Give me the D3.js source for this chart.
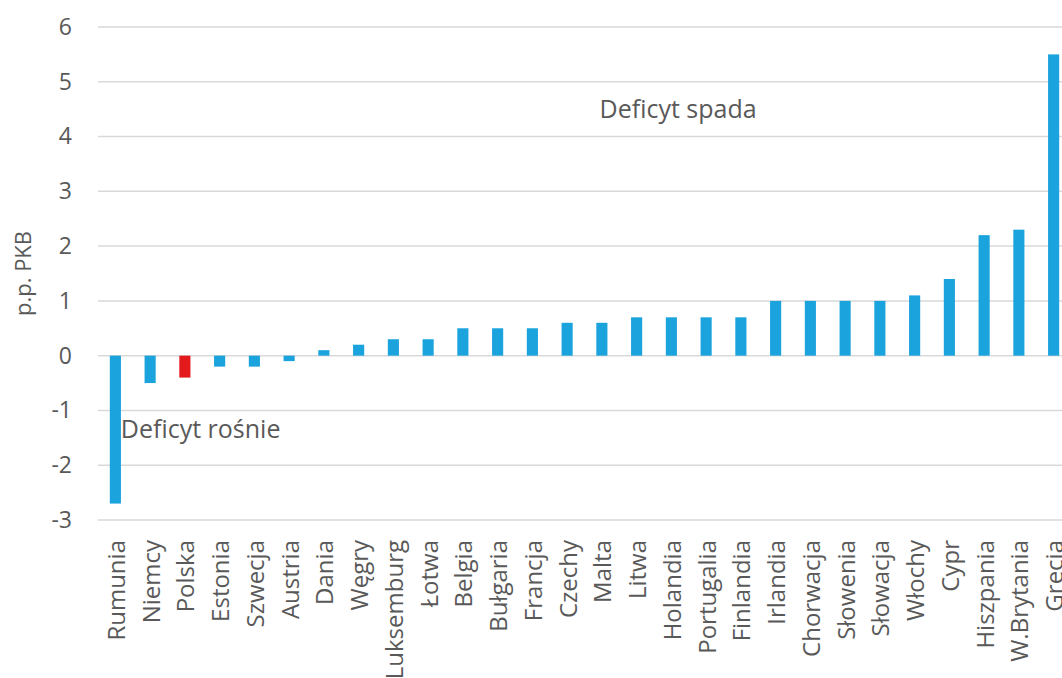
<!DOCTYPE html>
<html>
<head>
<meta charset="utf-8">
<script src="https://cdn.jsdelivr.net/npm/d3@7"></script>
<style>
  html, body { margin: 0; padding: 0; background: #fff; }
  svg { display: block; }
  text { font-family: "Open Sans", "Noto Sans", sans-serif; fill: #595959; }
</style>
</head>
<body>
<svg id="chart" width="1062" height="678"></svg>
<script>
// Change in general government balance, p.p. of GDP
const countries = ["Rumunia","Niemcy","Polska","Estonia","Szwecja","Austria","Dania","Węgry",
  "Luksemburg","Łotwa","Belgia","Bułgaria","Francja","Czechy","Malta","Litwa","Holandia",
  "Portugalia","Finlandia","Irlandia","Chorwacja","Słowenia","Słowacja","Włochy","Cypr",
  "Hiszpania","W.Brytania","Grecja"];
const values = [-2.7,-0.5,-0.4,-0.2,-0.2,-0.1,0.1,0.2,0.3,0.3,0.5,0.5,0.5,0.6,0.6,0.7,0.7,
  0.7,0.7,1.0,1.0,1.0,1.0,1.1,1.4,2.2,2.3,5.5];
const yTicks = [-3,-2,-1,0,1,2,3,4,5,6];
const highlight = "Polska";
const notes = [
  { text: "Deficyt spada", at: "Czechy", value: 4.5, shift: 38 },
  { text: "Deficyt rośnie", at: "Rumunia", value: -1.35, shift: 11 }
];

const svg = d3.select("#chart");
const plotLeft = 98, plotRight = 1071, plotTop = 27, plotBottom = 520;

const x = d3.scaleBand().domain(countries).range([plotLeft, plotRight]).paddingInner(0.68).paddingOuter(0.34);
const y = d3.scaleLinear().domain([-3, 6]).range([plotBottom, plotTop]);

// grid
svg.append("g").selectAll("line").data(yTicks).join("line")
  .attr("x1", plotLeft).attr("x2", 1062)
  .attr("y1", d => y(d)).attr("y2", d => y(d))
  .attr("stroke", "#d9d9d9").attr("stroke-width", 1.5);

// y axis labels (plain hyphen for negatives)
const yAxis = svg.append("g").attr("transform", `translate(${plotLeft - 26},0)`)
  .call(d3.axisLeft(y).tickValues(yTicks).tickSize(0).tickPadding(0).tickFormat(d => String(d)));
yAxis.select(".domain").remove();
yAxis.selectAll("text").attr("font-size", 23).style("fill", "#595959")
  .attr("font-family", "Open Sans, sans-serif");

// y title
svg.append("text")
  .attr("transform", `translate(23,${y(1.5)}) rotate(-90)`)
  .attr("text-anchor", "middle").attr("dy", "0.35em")
  .attr("font-size", 22).text("p.p. PKB");

// bars
svg.append("g").selectAll("rect").data(countries).join("rect")
  .attr("x", d => x(d))
  .attr("width", x.bandwidth())
  .attr("y", (d, i) => y(Math.max(0, values[i])))
  .attr("height", (d, i) => Math.abs(y(values[i]) - y(0)))
  .attr("fill", d => d === highlight ? "#e31a1c" : "#1aa3dc");

// x labels
svg.append("g").selectAll("text").data(countries).join("text")
  .attr("transform", d => `translate(${x(d) + x.bandwidth() / 2 + 1},540) rotate(-90)`)
  .attr("text-anchor", "end").attr("dy", "0.35em")
  .attr("font-size", 24).text(d => d);

// annotations
svg.append("g").selectAll("text").data(notes).join("text")
  .attr("x", d => x(d.at) + d.shift)
  .attr("y", d => y(d.value))
  .attr("dy", "0.35em")
  .attr("font-size", 25).text(d => d.text);
</script>
</body>
</html>
